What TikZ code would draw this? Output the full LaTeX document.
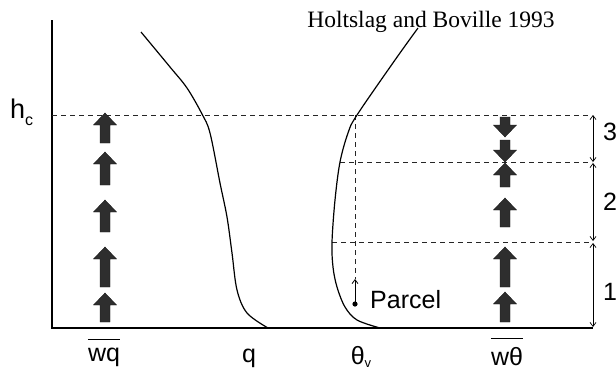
\documentclass[tikz,border=0pt]{standalone}
\usepackage{fontspec}
\setmainfont{Liberation Serif}
\newfontfamily\lsans{Liberation Sans}
\usetikzlibrary{arrows.meta}
\tikzset{
  axisline/.style={line width=1.3pt, black},
  curveline/.style={line width=1.2pt, black},
  dashline/.style={line width=0.9pt, dash pattern=on 5pt off 4pt, black!85},
  blk/.style={fill=black!82, draw=black!90, line width=0.4pt},
  lab/.style={font=\lsans\fontsize{25}{25}\selectfont, inner sep=0pt},
  rng/.style={line width=0.7pt, {Straight Barb[length=4pt,width=6pt]}-{Straight Barb[length=4pt,width=6pt]}},
  ovl/.style={line width=1.1pt}
}
\newcommand{\upblk}[3]{\filldraw[blk] ({#1-5},#2) -- ({#1-5},{#3+12}) -- ({#1-11.5},{#3+12}) -- (#1,#3) -- ({#1+11.5},{#3+12}) -- ({#1+5},{#3+12}) -- ({#1+5},#2) -- cycle;}
\newcommand{\downblk}[3]{\filldraw[blk] ({#1-5},#2) -- ({#1-5},{#3-12}) -- ({#1-11.5},{#3-12}) -- (#1,#3) -- ({#1+11.5},{#3-12}) -- ({#1+5},{#3-12}) -- ({#1+5},#2) -- cycle;}
\begin{document}
\begin{tikzpicture}[x=1pt,y=-1pt]
\useasboundingbox (0,0) rectangle (616,370);
% axes
\coordinate (top) at (52,20);
\coordinate (O) at (52,328);
\coordinate (R) at (593,328);
\draw[axisline] (top) -- (O) -- (R);
% dashed levels
\coordinate (d1l) at (52,115);  \coordinate (d1r) at (592,115);
\coordinate (d2l) at (340,162); \coordinate (d2r) at (592,162);
\coordinate (d3l) at (332,242); \coordinate (d3r) at (592,242);
\coordinate (vt) at (355,115);  \coordinate (vb) at (355,279);
\draw[dashline] (d1l) -- (d1r);
\draw[dashline] (d2l) -- (d2r);
\draw[dashline] (d3l) -- (d3r);
\draw[dashline] (vt) -- (vb);
% range arrows
\coordinate (r3t) at (593,115); \coordinate (r3b) at (593,162);
\coordinate (r2t) at (593,163); \coordinate (r2b) at (593,241);
\coordinate (r1t) at (593,243); \coordinate (r1b) at (593,327);
\draw[rng] (r3t) -- (r3b);
\draw[rng] (r2t) -- (r2b);
\draw[rng] (r1t) -- (r1b);
% q profile
\draw[curveline] plot[smooth, tension=0.55] coordinates {(141,32) (170,67) (187,88) (202,114) (210,133) (220,183) (227,217) (232,253) (237,290) (247,313) (268,328)};
% theta_v profile
\draw[curveline] plot[smooth, tension=0.55] coordinates {(418,28) (395,60) (357,115) (348,133) (340,162) (335,200) (332,242) (333,267) (337,287) (345,307) (357,320) (380,328)};
% parcel
\coordinate (pdot) at (355,304);
\fill (pdot) circle (2.6);
\draw[line width=0.8pt, -{Straight Barb[length=4pt,width=6pt]}] (pdot) -- (vb);
% flux arrows left
\upblk{105}{143}{113}
\upblk{105}{185}{152}
\upblk{105}{232}{200}
\upblk{105}{287}{247}
\upblk{105}{322}{293}
% flux arrows right
\downblk{505}{117}{137}
\downblk{505}{140}{162}
\upblk{505}{187}{163}
\upblk{505}{227}{198}
\upblk{505}{287}{247}
\upblk{505}{322}{292}
% labels
\node[font=\fontsize{23.5}{23.5}\selectfont, inner sep=0pt, anchor=base] (title) at (431,27) {Holtslag and Boville 1993};
\node[lab, font=\lsans\fontsize{27}{27}\selectfont, anchor=base west] (hc) at (10,118) {h\raisebox{-0.28em}{\fontsize{16}{16}\selectfont c}};
\node[lab, anchor=base west] (parcel) at (370,308) {Parcel};
\node[lab, anchor=base west] (n3) at (603,140) {3};
\node[lab, anchor=base west] (n2) at (603,210) {2};
\node[lab, anchor=base west] (n1) at (603,300) {1};
\node[lab, anchor=base] (wq) at (104,361) {wq};
\draw[ovl] ([yshift=8pt]wq.north west) -- ([yshift=8pt]wq.north east);
\node[lab, anchor=base] (q) at (249,362) {q};
\node[lab, anchor=base] (thv) at (361,364) {θ\raisebox{-0.15em}{\fontsize{13}{13}\selectfont v}};
\node[lab, anchor=base] (wt) at (507,365) {wθ};
\draw[ovl] ([yshift=8pt]wt.north west) -- ([yshift=8pt]wt.north east);
\end{tikzpicture}
\end{document}
